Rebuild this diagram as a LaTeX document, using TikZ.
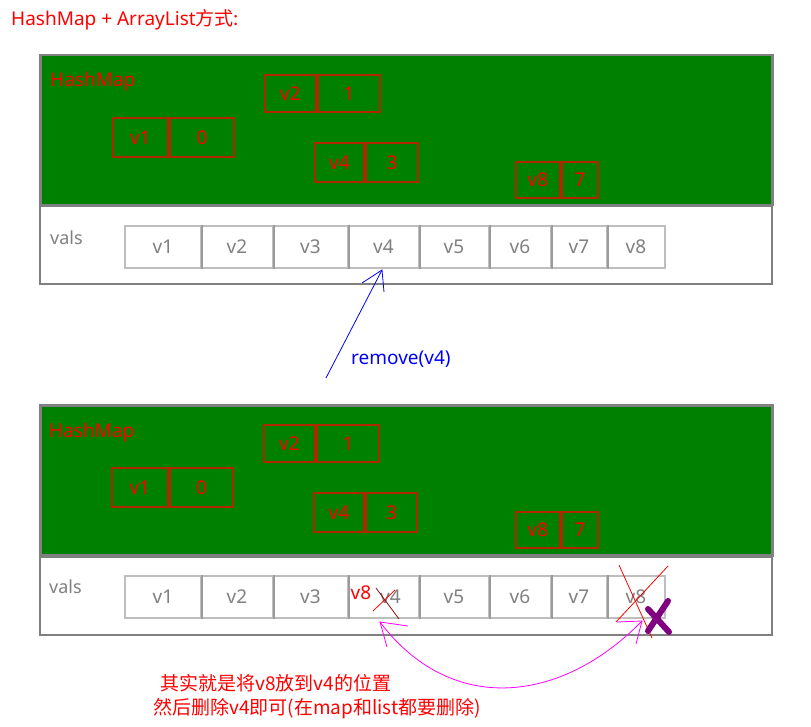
\documentclass[tikz,border=0pt]{standalone}
\usepackage{fontspec}
\setmainfont{Noto Sans}
\newfontfamily\cjkfont{Noto Sans CJK SC}
\usetikzlibrary{calc}
\definecolor{mapgreen}{RGB}{0,128,0}
\definecolor{boxgray}{RGB}{128,128,128}
\definecolor{cellgray}{RGB}{190,190,190}
\definecolor{divgray}{RGB}{155,155,155}
\definecolor{textgray}{RGB}{128,128,128}
\definecolor{entryred}{RGB}{175,40,0}
\definecolor{strikebrown}{RGB}{130,20,20}
\definecolor{xpurple}{RGB}{128,0,128}
\definecolor{arrowblue}{RGB}{0,0,255}
\definecolor{arrowmag}{RGB}{255,0,255}
\tikzset{
  mapbox/.style={draw=boxgray, line width=2.5pt, fill=mapgreen, anchor=north west, inner sep=0pt},
  valbox/.style={draw=boxgray, line width=2pt, fill=white, anchor=north west, inner sep=0pt},
  mapcell/.style={draw=entryred, line width=2pt, anchor=north west, inner sep=0pt, text=red, font=\fontsize{19}{21}\selectfont},
  valcell/.style={draw=cellgray, line width=1.8pt, anchor=north west, inner sep=0pt, text=textgray, font=\fontsize{19}{21}\selectfont},
  lbl/.style={inner sep=0pt, font=\fontsize{19}{21}\selectfont},
  openhead/.style={line width=0.8pt},
}
\begin{document}
\begin{tikzpicture}[x=1pt,y=-1pt]
\useasboundingbox (0,0) rectangle (811,727);
% title
\node[lbl, text=red, anchor=west] (title) at (11,20) {HashMap + ArrayList\cjkfont 方式:};

% ===== top diagram =====
\node[mapbox, minimum width=732pt, minimum height=150pt] (tmap) at (39,54) {};
\node[valbox, minimum width=732pt, minimum height=78pt] (tvals) at (39,205) {};
\node[lbl, text=red, anchor=west] (tmaplbl) at (50,82) {HashMap};
\node[lbl, text=textgray, anchor=west, font=\fontsize{18}{20}\selectfont] (tvalslbl) at (50,238) {vals};
% entries
\node[mapcell, minimum width=51pt, minimum height=37pt] (tk2) at (264,74) {v2};
\node[mapcell, minimum width=62pt, minimum height=37pt] (tv2) at (tk2.north east) {1};
\node[mapcell, minimum width=55pt, minimum height=39pt] (tk1) at (112,117) {v1};
\node[mapcell, minimum width=64pt, minimum height=39pt] (tv1) at (tk1.north east) {0};
\node[mapcell, minimum width=49pt, minimum height=39pt] (tk4) at (314,142) {v4};
\node[mapcell, minimum width=52pt, minimum height=39pt] (tv4) at (tk4.north east) {3};
\node[mapcell, minimum width=44pt, minimum height=36pt] (tk8) at (515,161) {v8};
\node[mapcell, minimum width=36pt, minimum height=36pt] (tv8) at (tk8.north east) {7};
% vals cells
\node[valcell, minimum width=76pt, minimum height=42pt] (t1) at (124,225) {v1};
\node[valcell, minimum width=72pt, minimum height=42pt] (t2) at (200,225) {v2};
\node[valcell, minimum width=75pt, minimum height=42pt] (t3) at (272,225) {v3};
\node[valcell, minimum width=71pt, minimum height=42pt] (t4) at (347,225) {v4};
\node[valcell, minimum width=70pt, minimum height=42pt] (t5) at (418,225) {v5};
\node[valcell, minimum width=62pt, minimum height=42pt] (t6) at (488,225) {v6};
\node[valcell, minimum width=56pt, minimum height=42pt] (t7) at (550,225) {v7};
\node[valcell, minimum width=58pt, minimum height=42pt] (t8) at (606,225) {v8};
\foreach \c in {t1,t2,t3,t4,t5,t6,t7}{\draw[divgray, line width=1.8pt] (\c.north east) -- (\c.south east);}

% blue arrow
\coordinate (bstart) at (326,378);
\coordinate (btip) at (382,270);
\draw[arrowblue, line width=0.8pt] (bstart) -- (btip);
\draw[arrowblue, openhead] (362,283) -- (btip) -- (384,292);
\node[lbl, text=arrowblue, anchor=west] (remove) at (351,359) {remove(v4)};

% ===== bottom diagram =====
\node[mapbox, minimum width=732pt, minimum height=150pt] (bmap) at (39,404) {};
\node[valbox, minimum width=732pt, minimum height=78pt] (bvals) at (39,556) {};
\node[lbl, text=red, anchor=west] (bmaplbl) at (49,433) {HashMap};
\node[lbl, text=textgray, anchor=west, font=\fontsize{18}{20}\selectfont] (bvalslbl) at (49,587) {vals};
\node[mapcell, minimum width=51pt, minimum height=37pt] (bk2) at (263,424) {v2};
\node[mapcell, minimum width=62pt, minimum height=37pt] (bv2) at (bk2.north east) {1};
\node[mapcell, minimum width=56pt, minimum height=39pt] (bk1) at (111,467) {v1};
\node[mapcell, minimum width=63pt, minimum height=39pt] (bv1) at (bk1.north east) {0};
\node[mapcell, minimum width=50pt, minimum height=39pt] (bk4) at (313,492) {v4};
\node[mapcell, minimum width=51pt, minimum height=39pt] (bv4) at (bk4.north east) {3};
\node[mapcell, minimum width=44pt, minimum height=36pt] (bk8) at (515,511) {v8};
\node[mapcell, minimum width=36pt, minimum height=36pt] (bv8) at (bk8.north east) {7};
\node[valcell, minimum width=76pt, minimum height=42pt] (b1) at (124,575) {v1};
\node[valcell, minimum width=72pt, minimum height=42pt] (b2) at (200,575) {v2};
\node[valcell, minimum width=75pt, minimum height=42pt] (b3) at (272,575) {v3};
\node[valcell, minimum width=71pt, minimum height=42pt] (b4) at (347,575) {\hspace*{14pt}v4};
\node[valcell, minimum width=70pt, minimum height=42pt] (b5) at (418,575) {v5};
\node[valcell, minimum width=62pt, minimum height=42pt] (b6) at (488,575) {v6};
\node[valcell, minimum width=56pt, minimum height=42pt] (b7) at (550,575) {v7};
\node[valcell, minimum width=58pt, minimum height=42pt] (b8) at (606,575) {v8};
\foreach \c in {b1,b2,b3,b4,b5,b6,b7}{\draw[divgray, line width=1.8pt] (\c.north east) -- (\c.south east);}

% replacement annotations
\node[lbl, text=red] (newv8) at (361,593) {v8};
\draw[strikebrown, line width=0.8pt] (376,588) -- (399,619);
\draw[red, line width=0.8pt] (373,611) -- (395,590);
\draw[red, line width=0.8pt] (619,565) -- (652,638);
\draw[red, line width=0.8pt] (668,566) -- (616,622);
\draw[xpurple, line width=6pt, line cap=round] (668,601) -- (648,631);
\draw[xpurple, line width=6pt, line cap=round] (648,609) -- (669,632);

% magenta double arrow
\coordinate (mleft) at (380,622);
\coordinate (mright) at (642,621);
\draw[arrowmag, line width=0.8pt] (mleft) .. controls (450,715) and (560,705) .. (mright);
\draw[arrowmag, openhead] (408,626) -- (mleft) -- (387,647);
\draw[arrowmag, openhead] (617,622) -- (mright) -- (636,644);

% explanation
\node[lbl, text=red, anchor=west, font=\cjkfont\fontsize{19}{21}\selectfont] (exp1) at (160,683) {其实就是将v8放到v4的位置};
\node[lbl, text=red, anchor=west, font=\cjkfont\fontsize{19}{21}\selectfont] (exp2) at (153,709) {然后删除v4即可(在map和list都要删除)};
\end{tikzpicture}
\end{document}
